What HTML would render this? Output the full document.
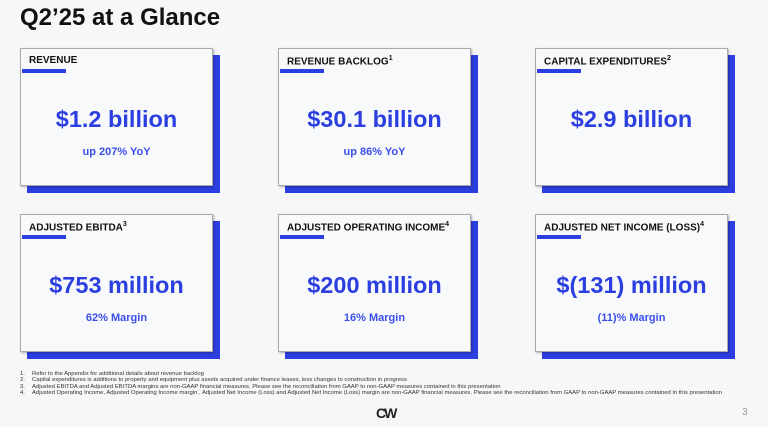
<!DOCTYPE html>
<html><head><style>
body{margin:0;width:768px;height:427px;background:#f6f7f9;font-family:"Liberation Sans",sans-serif;position:relative;overflow:hidden}
h1{position:absolute;left:20px;top:4px;margin:0;font-size:24px;font-weight:bold;color:#111;letter-spacing:0}
.c{position:absolute;width:193px;height:138px}
.c .s{position:absolute;left:7px;top:7px;width:193px;height:138px;background:#2b3fe0}
.c .b{position:absolute;left:0;top:0;width:191px;height:136px;background:#f8f9fb;border:1px solid #aaa;box-shadow:1px 1px 2px rgba(0,0,0,.3)}
.t{position:absolute;left:8px;top:6px;font-size:10px;font-weight:bold;color:#111;white-space:nowrap}
.t sup{font-size:7px}
.bar{position:absolute;left:1px;top:20px;width:44px;height:4px;background:#2b3fe0}
.v{position:absolute;left:0;width:191px;top:57px;text-align:center;font-size:23.5px;font-weight:bold;color:#2b3fe0;white-space:nowrap}
.u{position:absolute;left:0;width:191px;top:97px;text-align:center;font-size:11px;font-weight:bold;color:#3b4fe8}
.f{position:absolute;left:20px;top:371px;font-size:5.9px;color:#333;line-height:6.4px;white-space:nowrap}
.f span{display:inline-block;width:12px}
</style></head><body>
<h1>Q2’25 at a Glance</h1>
<div class="c" style="left:20px;top:48px"><div class="s"></div><div class="b"><div class="t">REVENUE</div><div class="bar"></div><div class="v">$1.2 billion</div><div class="u">up 207% YoY</div></div></div>
<div class="c" style="left:278px;top:48px"><div class="s"></div><div class="b"><div class="t">REVENUE BACKLOG<sup>1</sup></div><div class="bar"></div><div class="v">$30.1 billion</div><div class="u">up 86% YoY</div></div></div>
<div class="c" style="left:535px;top:48px"><div class="s"></div><div class="b"><div class="t">CAPITAL EXPENDITURES<sup>2</sup></div><div class="bar"></div><div class="v">$2.9 billion</div></div></div>
<div class="c" style="left:20px;top:214px"><div class="s"></div><div class="b"><div class="t">ADJUSTED EBITDA<sup>3</sup></div><div class="bar"></div><div class="v">$753 million</div><div class="u">62% Margin</div></div></div>
<div class="c" style="left:278px;top:214px"><div class="s"></div><div class="b"><div class="t">ADJUSTED OPERATING INCOME<sup>4</sup></div><div class="bar"></div><div class="v">$200 million</div><div class="u">16% Margin</div></div></div>
<div class="c" style="left:535px;top:214px"><div class="s"></div><div class="b"><div class="t">ADJUSTED NET INCOME (LOSS)<sup>4</sup></div><div class="bar"></div><div class="v">$(131) million</div><div class="u">(11)% Margin</div></div></div>
<div class="f">
<div><span>1.</span>Refer to the Appendix for additional details about revenue backlog</div>
<div><span>2.</span>Capital expenditures is additions to property and equipment plus assets acquired under finance leases, less changes to construction in progress</div>
<div><span>3.</span>Adjusted EBITDA and Adjusted EBITDA margins are non-GAAP financial measures. Please see the reconciliation from GAAP to non-GAAP measures contained in this presentation</div>
<div><span>4.</span>Adjusted Operating Income, Adjusted Operating Income margin , Adjusted Net Income (Loss) and Adjusted Net Income (Loss) margin are non-GAAP financial measures. Please see the reconciliation from GAAP to non-GAAP measures contained in this presentation</div>
</div>
<div style="position:absolute;left:376px;top:405px;font-size:14px;font-weight:bold;color:#222;letter-spacing:-2px">CW</div>
<div style="position:absolute;left:742px;top:407px;font-size:10px;color:#999">3</div>
</body></html>
